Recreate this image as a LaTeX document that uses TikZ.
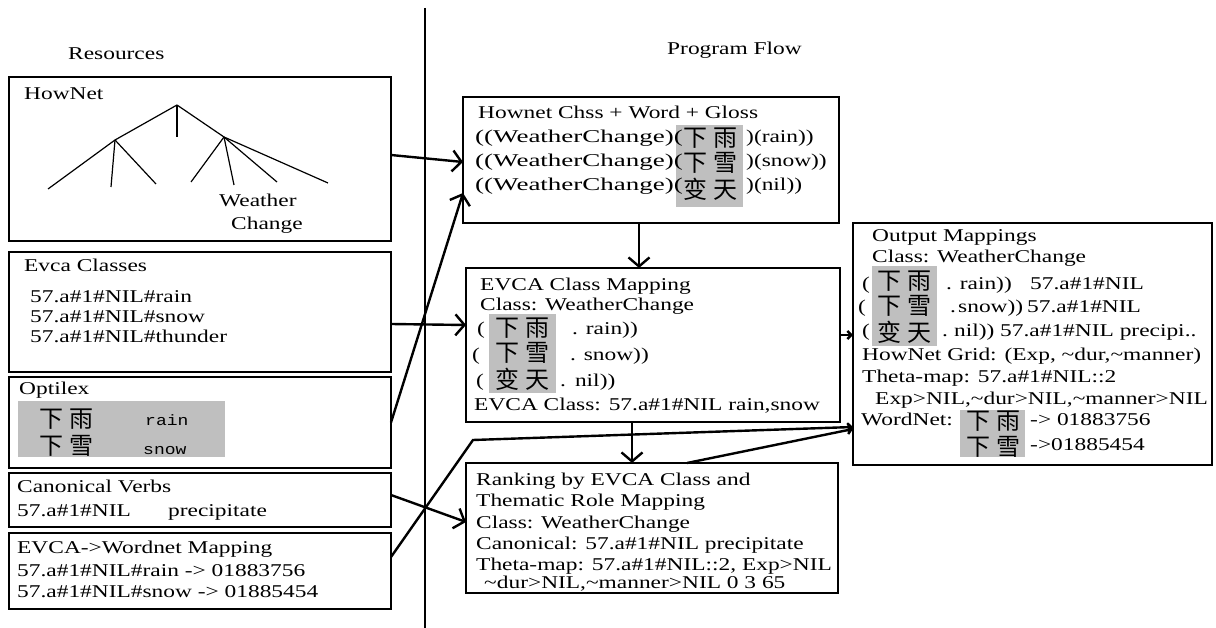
\documentclass[tikz,border=0pt]{standalone}
\usepackage{fontspec}
\setmainfont[FakeStretch=1.3]{Liberation Serif}
\newfontfamily\widef[FakeStretch=1.5]{Liberation Serif}
\newfontfamily\cjk{Noto Sans CJK SC}
\newfontfamily\monof[FakeStretch=1.2]{Liberation Mono}
\usetikzlibrary{arrows.meta}
\newcommand\zhpair[2]{{\cjk\fontsize{24}{24}\selectfont #1\hspace{6pt}#2}}
\newcommand\tld{\textasciitilde}
\begin{document}
\begin{tikzpicture}[x=1pt,y=-1pt,
  box/.style={draw, line width=1.7pt, anchor=north west, inner sep=0pt, outer sep=0pt},
  txt/.style={anchor=base west, inner sep=0pt, font=\fontsize{18}{22}\selectfont},
  wtxt/.style={anchor=base west, inner sep=0pt, font=\widef\fontsize{18}{22}\selectfont},
  mtxt/.style={anchor=base west, inner sep=0pt, font=\monof\fontsize{15}{18}\selectfont},
  cj/.style={inner sep=0pt, anchor=center},
  conn/.style={line width=2.4pt, -{Straight Barb[length=9pt,width=21pt,line width=2.4pt]}},
  sconn/.style={line width=2.4pt, -{Straight Barb[length=4pt,width=8pt,line width=2.4pt]}},
  tree/.style={line width=1.2pt},
  shade/.style={fill=black!25}]
\useasboundingbox (0,0) rectangle (1216,628);
\fill[white] (0,0) rectangle (1216,628);

% divider
\draw[line width=1.4pt] (425,8) -- (425,628);

% headings
\node[txt] (hres) at (68,60) {Resources};
\node[txt] (hprog) at (667,55) {Program Flow};

% ---------- left column ----------
\node[box, minimum width=382pt, minimum height=164pt] (hownet) at (9,77) {};
\node[txt] (t1) at (24,100) {HowNet};
\draw[tree] (177,105) -- (115,140) -- (48,189);
\draw[tree] (177,105) -- (177,137);
\draw[tree] (177,105) -- (224,137) -- (328,183);
\draw[tree] (115,140) -- (111,187);
\draw[tree] (115,140) -- (156,184);
\draw[tree] (224,137) -- (191,182);
\draw[tree] (224,137) -- (234,185);
\draw[tree] (224,137) -- (277,182);
\node[txt] (t2) at (219,207) {Weather};
\node[txt] (t3) at (231,230) {Change};

\node[box, minimum width=382pt, minimum height=120pt] (evca) at (9,252) {};
\node[txt] (t4) at (24,272) {Evca Classes};
\node[txt] (t5) at (30,303) {57.a\#1\#NIL\#rain};
\node[txt] (t6) at (30,323) {57.a\#1\#NIL\#snow};
\node[txt] (t7) at (30,343) {57.a\#1\#NIL\#thunder};

\node[box, minimum width=382pt, minimum height=91pt] (optilex) at (9,377) {};
\node[txt] (t8) at (19,395) {Optilex};
\fill[shade] (18,401) rectangle (225,457);
\node[cj] (c1) at (66,419) {\zhpair{下}{雨}};
\node[mtxt] (t9) at (145,425) {rain};
\node[cj] (c2) at (66,446) {\zhpair{下}{雪}};
\node[mtxt] (t10) at (143,454) {snow};

\node[box, minimum width=382pt, minimum height=54pt] (canon) at (9,473) {};
\node[txt] (t11) at (17,492) {Canonical Verbs};
\node[txt] (t12) at (17,516) {57.a\#1\#NIL};
\node[txt] (t13) at (168,516) {precipitate};

\node[box, minimum width=382pt, minimum height=76pt] (ewn) at (9,533) {};
\node[txt] (t14) at (17,553) {EVCA->Wordnet Mapping};
\node[txt] (t15) at (17,576) {57.a\#1\#NIL\#rain -> 01883756};
\node[txt] (t16) at (17,597) {57.a\#1\#NIL\#snow -> 01885454};

% ---------- middle column ----------
\node[box, minimum width=376pt, minimum height=126pt] (hcls) at (463,97) {};
\fill[shade] (676,125) rectangle (743,207);
\node[txt] (t17) at (478,119) {Hownet Chss + Word + Gloss};
\node[wtxt] (t18) at (475,143) {((WeatherChange)(};
\node[cj] (c3) at (710,138) {\zhpair{下}{雨}};
\node[txt] (t19) at (746,143) {)(rain))};
\node[wtxt] (t20) at (475,167) {((WeatherChange)(};
\node[cj] (c4) at (710,163) {\zhpair{下}{雪}};
\node[txt] (t21) at (746,167) {)(snow))};
\node[wtxt] (t22) at (475,191) {((WeatherChange)(};
\node[cj] (c5) at (710,189) {\zhpair{变}{天}};
\node[txt] (t23) at (746,191) {)(nil))};

\node[box, minimum width=374pt, minimum height=154pt] (evmap) at (466,268) {};
\fill[shade] (489,314) rectangle (556,393);
\node[txt] (t24) at (480,291) {EVCA Class Mapping};
\node[txt] (t25) at (480,311) {Class: WeatherChange};
\node[txt] (t26) at (477,335) {(};
\node[cj] (c6) at (522,328) {\zhpair{下}{雨}};
\node[txt] (t27) at (572,335) {. rain))};
\node[txt] (t28) at (472,361) {(};
\node[cj] (c7) at (522,353) {\zhpair{下}{雪}};
\node[txt] (t29) at (570,361) {. snow))};
\node[txt] (t30) at (476,387) {(};
\node[cj] (c8) at (522,379) {\zhpair{变}{天}};
\node[txt] (t31) at (560,387) {.\hspace{9pt}nil))};
\node[txt] (t32) at (474,410) {EVCA Class: 57.a\#1\#NIL rain,snow};

\node[box, minimum width=372pt, minimum height=130pt] (rank) at (466,463) {};
\node[txt] (t33) at (476,485) {Ranking by EVCA Class and};
\node[txt] (t34) at (476,506) {Thematic Role Mapping};
\node[txt] (t35) at (476,528) {Class: WeatherChange};
\node[txt] (t36) at (476,549) {Canonical: 57.a\#1\#NIL precipitate};
\node[txt] (t37) at (476,570) {Theta-map: 57.a\#1\#NIL::2, Exp>NIL};
\node[txt] (t38) at (484,588) {\tld dur>NIL,\tld manner>NIL 0 3 65};

% ---------- right column ----------
\node[box, minimum width=359pt, minimum height=242pt] (out) at (853,223) {};
\fill[shade] (872,266) rectangle (937,346);
\fill[shade] (960,410) rectangle (1025,457);
\node[txt] (t39) at (872,242) {Output Mappings};
\node[txt] (t40) at (872,263) {Class: WeatherChange};
\node[txt] (t41) at (862,290) {(};
\node[cj] (c9) at (904,281) {\zhpair{下}{雨}};
\node[txt] (t42) at (946,290) {. rain))};
\node[txt] (t43) at (1030,290) {57.a\#1\#NIL};
\node[txt] (t44) at (858,313) {(};
\node[cj] (c10) at (904,306) {\zhpair{下}{雪}};
\node[txt] (t45) at (950,313) {.};
\node[txt] (t45b) at (958,313) {snow))};
\node[txt] (t46) at (1027,313) {57.a\#1\#NIL};
\node[txt] (t47) at (862,337) {(};
\node[cj] (c11) at (904,332) {\zhpair{变}{天}};
\node[txt] (t48) at (942,337) {.\hspace{6pt}nil)) 57.a\#1\#NIL precipi..};
\node[txt] (t49) at (862,361) {HowNet Grid: (Exp, \tld dur,\tld manner)};
\node[txt] (t50) at (862,383) {Theta-map: 57.a\#1\#NIL::2};
\node[txt] (t51) at (875,404) {Exp>NIL,\tld dur>NIL,\tld manner>NIL};
\node[txt] (t52) at (861,425) {WordNet:};
\node[cj] (c12) at (993,421) {\zhpair{下}{雨}};
\node[txt] (t53) at (1030,425) {-> 01883756};
\node[cj] (c13) at (993,447) {\zhpair{下}{雪}};
\node[txt] (t54) at (1030,450) {->01885454};

% ---------- connectors ----------
\coordinate (bend) at (473,440);
\draw[conn] ([yshift=4pt]hownet.east) -- ([yshift=-2pt]hcls.west);
\draw[conn] (optilex.east) -- ([yshift=-33pt]hcls.west);
\draw[conn] ([yshift=-12pt]evca.east) -- ([yshift=20pt]evmap.west);
\draw[conn] ([yshift=5pt]canon.east) -- ([yshift=6pt]rank.west);
\draw[sconn] ([yshift=14pt]ewn.east) -- (bend) -- ([yshift=-83pt]out.west);
\draw[sconn] ([xshift=35pt]rank.north) -- ([yshift=-85pt]out.west);
\draw[conn] ([xshift=-12pt]hcls.south) -- ([xshift=-14pt]evmap.north);
\draw[conn] ([xshift=-21pt]evmap.south) -- ([xshift=-20pt]rank.north);
\draw[sconn] ([yshift=10pt]evmap.east) -- ([yshift=9pt]out.west);
\end{tikzpicture}
\end{document}
